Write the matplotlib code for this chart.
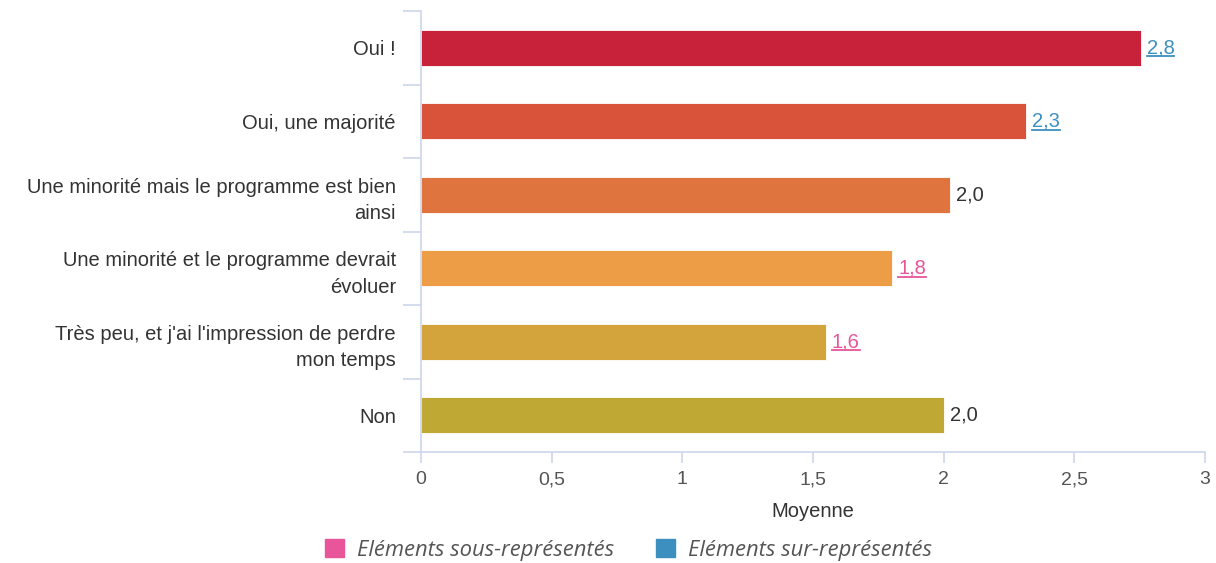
import numpy as np
import matplotlib
matplotlib.use("Agg")
import matplotlib.pyplot as plt
from matplotlib.patches import Patch
from matplotlib.lines import Line2D

plt.rcParams["font.family"] = ["Liberation Sans", "DejaVu Sans"]

# data
categories = [
    "Oui !",
    "Oui, une majorité",
    "Une minorité mais le programme est bien\nainsi",
    "Une minorité et le programme devrait\névoluer",
    "Très peu, et j'ai l'impression de perdre\nmon temps",
    "Non",
]
means = [2.755, 2.316, 2.025, 1.804, 1.551, 2.002]
status = ["sur", "sur", None, "sous", "sous", None]
bar_colors = ["#c8223a", "#d9533a", "#e0743e", "#ec9d45", "#d4a43c", "#c0a835"]
x_ticks = [0, 0.5, 1, 1.5, 2, 2.5, 3]
legend_labels = ["Eléments sous-représentés", "Eléments sur-représentés"]

pink = "#e8559a"
blue = "#3d8fc0"
axis_col = "#ccd6eb"
status_col = {"sur": blue, "sous": pink, None: "#333333"}

fig = plt.figure(figsize=(12.16, 5.63), dpi=100)
ax = fig.add_axes([421 / 1216, 1 - 452 / 563, 784 / 1216, 441 / 563])

y = np.arange(len(categories))
ax.barh(y, means, height=0.49, color=bar_colors, edgecolor="white", linewidth=0.6)
ax.set_xlim(0, 3)
ax.set_ylim(len(categories) - 0.5, -0.5)

for s in ["top", "right"]:
    ax.spines[s].set_visible(False)
for s in ["left", "bottom"]:
    ax.spines[s].set_color(axis_col)
    ax.spines[s].set_linewidth(1.2)

ax.set_yticks(y)
ax.set_yticklabels(categories, fontsize=14.5, color="#333333", linespacing=1.5)
ax.tick_params(axis="y", which="major", length=0, pad=18)
ax.set_yticks(np.arange(-0.5, len(categories)), minor=True)
ax.tick_params(axis="y", which="minor", length=13, color=axis_col, width=1.2)

ax.set_xticks(x_ticks)
ax.set_xticklabels([f"{t:g}".replace(".", ",") for t in x_ticks])
ax.tick_params(axis="x", length=8, color=axis_col, width=1.2, pad=6,
               labelsize=14, labelcolor="#555555")
ax.set_xlabel("Moyenne", fontsize=14.5, color="#333333", labelpad=10)

fig.canvas.draw()
renderer = fig.canvas.get_renderer()
for yi, v, st in zip(y, means, status):
    lbl = f"{v:.1f}".replace(".", ",")
    t = ax.annotate(lbl, (v, yi), xytext=(4, 0), textcoords="offset points",
                    va="center", ha="left", fontsize=14.5, color=status_col[st])
    if st is not None:
        bb = t.get_window_extent(renderer)
        x0, x1 = bb.x0 / fig.bbox.width, bb.x1 / fig.bbox.width
        yl = (bb.y0 + 1) / fig.bbox.height
        fig.add_artist(Line2D([x0, x1], [yl, yl], color=status_col[st],
                              lw=1.3, transform=fig.transFigure))

handles = [Patch(color=pink), Patch(color=blue)]
fig.legend(handles, legend_labels, loc="center", bbox_to_anchor=(0.517, 1 - 550 / 563),
           ncol=2, frameon=False, handlelength=0.85, handleheight=0.85,
           columnspacing=1.9, handletextpad=0.6,
           prop={"family": "Open Sans", "style": "italic", "size": 15.8},
           labelcolor="#555555")

fig.savefig("out.png", dpi=100)
